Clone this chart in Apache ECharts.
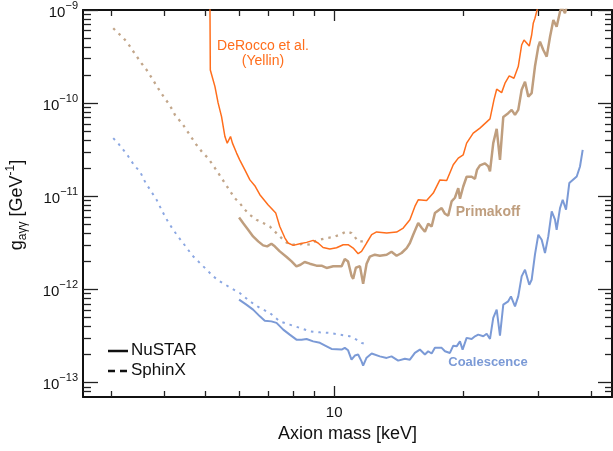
<!DOCTYPE html>
<html><head><meta charset="utf-8">
<script src="https://cdn.jsdelivr.net/npm/echarts@6/dist/echarts.min.js"></script>
<style>html,body{margin:0;padding:0;background:#fff}#c{width:613px;height:451px}</style>
</head><body><div id="c"></div>
<script>
// ---- axis ticks ----
const xMajorTicks = [10];
const xMinorTicks = [3, 4, 5, 6, 7, 8, 9, 20, 30, 40];
const yMajorTicks = [1e-13, 1e-12, 1e-11, 1e-10, 1e-9];
const yMinorTicks = [8e-14, 9e-14,
  2e-13, 3e-13, 4e-13, 5e-13, 6e-13, 7e-13, 8e-13, 9e-13,
  2e-12, 3e-12, 4e-12, 5e-12, 6e-12, 7e-12, 8e-12, 9e-12,
  2e-11, 3e-11, 4e-11, 5e-11, 6e-11, 7e-11, 8e-11, 9e-11,
  2e-10, 3e-10, 4e-10, 5e-10, 6e-10, 7e-10, 8e-10, 9e-10];

// ---- data: [axion mass keV, g_agg GeV^-1] ----
const derocco = [[5.12,1.13e-9],[5.13,2.27e-10],[5.26,1.505e-10],[5.35,1.006e-10],[5.45,7.17e-11],[5.55,4.38e-11],[5.62,3.72e-11],[5.72,4.38e-11],[5.78,3.72e-11],[5.91,2.91e-11],[6.01,2.46e-11],[6.18,1.92e-11],[6.35,1.50e-11],[6.52,1.30e-11],[6.70,1.04e-11],[7.00,8.11e-12],[7.30,6.60e-12],[7.46,4.74e-12],[7.67,3.56e-12],[7.80,3.15e-12],[8.02,2.97e-12],[8.31,3.09e-12],[8.62,3.20e-12],[8.93,3.36e-12],[9.17,3.15e-12],[9.42,2.82e-12],[9.77,2.72e-12],[10.13,2.80e-12],[10.50,3.02e-12],[10.78,3.02e-12],[11.08,2.78e-12],[11.38,2.42e-12],[11.59,2.56e-12],[11.91,3.15e-12],[12.24,3.87e-12],[12.57,4.14e-12],[13.27,4.03e-12],[14.00,4.13e-12],[14.51,4.56e-12],[15.04,5.60e-12],[15.45,7.78e-12],[15.73,9.17e-12],[16.46,9.02e-12],[17.06,1.082e-11],[17.68,1.50e-11],[18.34,1.477e-11],[19.00,2.18e-11],[19.52,2.57e-11],[20.05,2.79e-11],[20.42,3.72e-11],[21.16,4.76e-11],[21.94,5.39e-11],[23.16,6.78e-11],[23.66,1.084e-10],[24.01,1.411e-10],[24.66,1.297e-10],[25.11,1.636e-10],[25.69,1.96e-10],[26.35,1.852e-10],[26.97,2.47e-10],[27.47,4.21e-10],[27.82,4.77e-10],[28.62,4.11e-10],[28.99,5.39e-10],[29.24,7.20e-10],[29.51,8.15e-10],[30.05,1.13e-9]];

const primakoffNuSTAR = [[5.99,5.92e-12],[6.12,5.16e-12],[6.29,4.37e-12],[6.46,3.71e-12],[6.64,3.28e-12],[6.82,2.97e-12],[6.97,2.90e-12],[7.13,3.09e-12],[7.26,2.90e-12],[7.46,2.56e-12],[7.74,2.23e-12],[7.95,2.00e-12],[8.16,1.77e-12],[8.34,1.84e-12],[8.53,1.97e-12],[8.77,1.89e-12],[9.09,1.80e-12],[9.34,1.80e-12],[9.60,1.70e-12],[9.95,1.77e-12],[10.41,1.77e-12],[10.59,2.12e-12],[10.78,1.99e-12],[10.98,1.40e-12],[11.08,1.30e-12],[11.24,1.71e-12],[11.49,1.78e-12],[11.69,1.15e-12],[11.91,1.89e-12],[12.12,2.25e-12],[12.45,2.36e-12],[12.79,2.30e-12],[13.27,2.36e-12],[13.62,2.54e-12],[14.00,2.30e-12],[14.38,2.46e-12],[14.78,2.78e-12],[15.04,3.15e-12],[15.31,3.87e-12],[15.73,5.16e-12],[16.02,4.59e-12],[16.31,4.16e-12],[16.60,5.07e-12],[16.91,4.74e-12],[17.21,6.60e-12],[17.85,7.47e-12],[18.17,6.49e-12],[18.49,6.18e-12],[18.83,8.80e-12],[19.17,9.64e-12],[19.52,1.224e-11],[19.70,9.40e-12],[20.05,1.274e-11],[20.42,1.62e-11],[20.98,1.62e-11],[21.36,1.54e-11],[21.59,1.92e-11],[21.94,2.15e-11],[22.54,2.26e-11],[22.95,2.09e-11],[23.16,1.85e-11],[23.57,3.72e-11],[24.01,5.30e-11],[24.44,2.46e-11],[24.88,7.12e-11],[25.55,7.80e-11],[26.03,8.46e-11],[26.50,7.48e-11],[26.97,8.46e-11],[27.47,1.39e-10],[27.97,1.70e-10],[28.47,1.175e-10],[28.99,1.28e-10],[29.51,2.47e-10],[30.05,4.04e-10],[30.32,4.57e-10],[30.87,3.72e-10],[31.44,3.16e-10],[32.01,5.17e-10],[32.59,7.81e-10],[33.17,6.62e-10],[33.78,9.59e-10],[34.08,1.085e-9],[34.69,9.22e-10],[35.01,1.085e-9],[35.32,1.19e-9]];

const coalescenceNuSTAR = [[5.99,7.77e-13],[6.23,6.86e-13],[6.46,6.07e-13],[6.70,5.14e-13],[6.88,4.62e-13],[7.13,4.54e-13],[7.33,4.37e-13],[7.60,3.70e-13],[7.87,3.27e-13],[8.16,2.89e-13],[8.39,2.89e-13],[8.62,2.94e-13],[8.93,2.77e-13],[9.26,2.67e-13],[9.60,2.45e-13],[9.86,2.30e-13],[10.41,2.26e-13],[10.59,2.36e-13],[10.78,2.22e-13],[10.98,1.76e-13],[11.18,1.95e-13],[11.38,2.00e-13],[11.59,1.69e-13],[11.69,1.52e-13],[11.91,1.85e-13],[12.24,2.05e-13],[12.79,1.91e-13],[13.27,1.84e-13],[13.62,1.91e-13],[14.12,1.72e-13],[14.64,1.80e-13],[15.04,1.76e-13],[15.45,2.08e-13],[15.87,2.26e-13],[16.31,2.00e-13],[16.60,2.17e-13],[16.91,2.05e-13],[17.21,2.36e-13],[17.85,2.36e-13],[18.17,2.17e-13],[18.66,2.08e-13],[19.00,2.49e-13],[19.35,2.45e-13],[19.70,2.77e-13],[19.98,2.26e-13],[20.42,3.02e-13],[20.98,2.94e-13],[21.36,3.14e-13],[21.74,3.27e-13],[22.34,3.14e-13],[22.75,3.35e-13],[23.16,2.94e-13],[23.57,4.94e-13],[24.01,6.07e-13],[24.44,3.19e-13],[24.88,6.86e-13],[25.55,7.45e-13],[25.93,8.42e-13],[26.50,6.58e-13],[26.97,8.42e-13],[27.47,1.38e-12],[27.97,1.63e-12],[28.62,1.124e-12],[28.99,1.27e-12],[29.51,2.36e-12],[30.05,3.87e-12],[30.60,3.42e-12],[31.15,2.46e-12],[31.71,3.71e-12],[32.30,6.87e-12],[32.88,5.60e-12],[33.17,4.37e-12],[33.78,7.47e-12],[34.27,9.17e-12],[34.89,7.17e-12],[35.51,1.386e-11],[36.96,1.63e-11],[37.62,2.09e-11],[38.17,3.15e-11]];

const primakoffSphinX = [[3.04,6.37e-10],[3.12,5.67e-10],[3.21,5.01e-10],[3.29,4.39e-10],[3.41,3.43e-10],[3.54,2.68e-10],[3.64,2.27e-10],[3.74,1.87e-10],[3.87,1.45e-10],[4.01,1.13e-10],[4.12,9.58e-11],[4.24,7.48e-11],[4.43,5.85e-11],[4.59,4.57e-11],[4.76,3.57e-11],[4.93,2.91e-11],[5.07,2.57e-11],[5.26,2.01e-11],[5.45,1.57e-11],[5.65,1.22e-11],[5.85,9.57e-12],[6.01,8.46e-12],[6.18,7.17e-12],[6.35,6.33e-12],[6.58,5.60e-12],[6.82,5.16e-12],[7.07,4.74e-12],[7.26,4.19e-12],[7.46,3.71e-12],[7.67,3.28e-12],[7.87,3.02e-12],[8.16,3.02e-12],[8.46,3.09e-12],[8.77,3.02e-12],[9.01,3.28e-12],[9.26,3.42e-12],[9.60,3.56e-12],[9.95,3.65e-12],[10.31,3.87e-12],[10.69,4.19e-12],[10.98,4.03e-12],[11.18,3.65e-12],[11.38,3.28e-12],[11.69,3.28e-12],[11.91,3.48e-12]];

const coalescenceSphinX = [[3.04,4.21e-11],[3.12,3.72e-11],[3.21,3.15e-11],[3.29,2.72e-11],[3.41,2.12e-11],[3.51,1.85e-11],[3.62,1.39e-11],[3.70,1.195e-11],[3.84,9.17e-12],[3.98,6.60e-12],[4.08,5.37e-12],[4.20,4.37e-12],[4.31,3.71e-12],[4.43,3.15e-12],[4.55,2.67e-12],[4.68,2.26e-12],[4.85,1.92e-12],[5.03,1.63e-12],[5.21,1.38e-12],[5.40,1.22e-12],[5.65,1.078e-12],[6.01,9.16e-13],[6.35,7.45e-13],[6.70,6.33e-13],[7.07,5.59e-13],[7.46,4.54e-13],[7.87,4.19e-13],[8.31,3.86e-13],[8.77,3.55e-13],[9.26,3.46e-13],[9.77,3.41e-13],[10.31,3.27e-13],[10.88,3.14e-13],[11.28,2.89e-13],[11.59,2.67e-13],[11.80,2.60e-13]];

const X_MIN = 2.583, X_MAX = 44.7, Y_MIN = 7e-14, Y_MAX = 1e-9;
const FONT = '"Liberation Sans", Arial, Helvetica, sans-serif';
const AX = '#111';

function xAxisDef(pos, ticks, len, withLine) {
  return {
    type: 'log', logBase: 10, min: X_MIN, max: X_MAX, position: pos, gridIndex: 0,
    axisLine: { show: withLine, onZero: false, lineStyle: { color: AX, width: 2 } },
    axisTick: { show: true, inside: true, length: len, customValues: ticks, lineStyle: { color: '#222', width: 1.3 } },
    axisLabel: { show: false }, splitLine: { show: false }, minorTick: { show: false }, minorSplitLine: { show: false }
  };
}
function yAxisDef(pos, ticks, len, withLine) {
  return {
    type: 'log', logBase: 10, min: Y_MIN, max: Y_MAX, position: pos, gridIndex: 0,
    axisLine: { show: withLine, onZero: false, lineStyle: { color: AX, width: 2 } },
    axisTick: { show: true, inside: true, length: len, customValues: ticks, lineStyle: { color: '#222', width: 1.3 } },
    axisLabel: { show: false }, splitLine: { show: false }, minorTick: { show: false }, minorSplitLine: { show: false }
  };
}

const xMain = xAxisDef('bottom', xMajorTicks, 11, true);
xMain.axisLabel = { show: true, customValues: xMajorTicks, margin: 8, color: '#111', fontFamily: FONT, fontSize: 15, formatter: v => String(Math.round(v)) };
xMain.name = 'Axion mass [keV]';
xMain.nameLocation = 'middle';
xMain.nameGap = 27;
xMain.nameTextStyle = { color: '#111', fontFamily: FONT, fontSize: 18 };

const yMain = yAxisDef('left', yMajorTicks, 15, true);
yMain.axisLabel = {
  show: true, customValues: yMajorTicks, margin: 5, color: '#111', fontFamily: FONT,
  formatter: v => '{b|10}{s|\u2212' + Math.round(-Math.log10(v)) + '}',
  rich: {
    b: { fontFamily: FONT, fontSize: 15, color: '#111', lineHeight: 20, verticalAlign: 'bottom' },
    s: { fontFamily: FONT, fontSize: 11, color: '#111', lineHeight: 20, verticalAlign: 'top', padding: [0, 0, 6, 0] }
  }
};

const option = {
  animation: false,
  backgroundColor: '#fff',
  grid: { left: 83, right: 1, top: 10, bottom: 54, containLabel: false, outerBoundsMode: 'none' },
  xAxis: [xMain, xAxisDef('bottom', xMinorTicks, 6, false), xAxisDef('top', xMajorTicks, 11, true), xAxisDef('top', xMinorTicks, 6, false)],
  yAxis: [yMain, yAxisDef('left', yMinorTicks, 8, false), yAxisDef('right', yMajorTicks, 14, true), yAxisDef('right', yMinorTicks, 7, false)],
  series: [
    { name: 'Coalescence SphinX', type: 'line', data: coalescenceSphinX, showSymbol: false, clip: true,
      lineStyle: { color: '#8ba7e2', width: 2, type: [2.5, 5] } },
    { name: 'Primakoff SphinX', type: 'line', data: primakoffSphinX, showSymbol: false, clip: true,
      lineStyle: { color: '#c2a68a', width: 2.3, type: [2.5, 5] } },
    { name: 'Coalescence NuSTAR', type: 'line', data: coalescenceNuSTAR, showSymbol: false, clip: true,
      lineStyle: { color: '#7b9ad6', width: 2 } },
    { name: 'Primakoff NuSTAR', type: 'line', data: primakoffNuSTAR, showSymbol: false, clip: true,
      lineStyle: { color: '#bf9e7e', width: 2.5 } },
    { name: 'DeRocco et al. (Yellin)', type: 'line', data: derocco, showSymbol: false, clip: true,
      lineStyle: { color: '#ff6e1c', width: 1.5 } }
  ],
  graphic: [
    { type: 'text', x: 17, y: 205, rotation: Math.PI / 2,
      style: { text: '{g|g}{sub|a\u03b3\u03b3}{g| [GeV}{sup|-1}{g|]}', align: 'center', verticalAlign: 'middle',
        textAlign: 'center', textVerticalAlign: 'middle',
        rich: {
          g: { fontFamily: FONT, fontSize: 18, fill: '#111', color: '#111', lineHeight: 24, verticalAlign: 'middle' },
          sub: { fontFamily: FONT, fontSize: 12, fill: '#111', color: '#111', lineHeight: 24, verticalAlign: 'bottom' },
          sup: { fontFamily: FONT, fontSize: 12, fill: '#111', color: '#111', lineHeight: 24, verticalAlign: 'top' }
        } } },
    { type: 'text', x: 263, y: 46, style: { text: 'DeRocco et al.', fill: '#ff6e1c', font: '14px ' + FONT, align: 'center', verticalAlign: 'middle', textAlign: 'center', textVerticalAlign: 'middle' } },
    { type: 'text', x: 263, y: 61, style: { text: '(Yellin)', fill: '#ff6e1c', font: '14px ' + FONT, align: 'center', verticalAlign: 'middle', textAlign: 'center', textVerticalAlign: 'middle' } },
    { type: 'text', x: 488, y: 212, style: { text: 'Primakoff', fill: '#bf9e7e', font: 'bold 14px ' + FONT, align: 'center', verticalAlign: 'middle', textAlign: 'center', textVerticalAlign: 'middle' } },
    { type: 'text', x: 488, y: 362, style: { text: 'Coalescence', fill: '#7b9ad6', font: 'bold 13px ' + FONT, align: 'center', verticalAlign: 'middle', textAlign: 'center', textVerticalAlign: 'middle' } },
    { type: 'line', shape: { x1: 108, y1: 351, x2: 128, y2: 351 }, style: { stroke: '#111', lineWidth: 2.5 } },
    { type: 'line', shape: { x1: 108, y1: 371, x2: 128, y2: 371 }, style: { stroke: '#111', lineWidth: 2.5, lineDash: [7, 5] } },
    { type: 'text', x: 131, y: 350, style: { text: 'NuSTAR', fill: '#111', font: '17px ' + FONT, align: 'left', verticalAlign: 'middle', textAlign: 'left', textVerticalAlign: 'middle' } },
    { type: 'text', x: 131, y: 370, style: { text: 'SphinX', fill: '#111', font: '17px ' + FONT, align: 'left', verticalAlign: 'middle', textAlign: 'left', textVerticalAlign: 'middle' } }
  ]
};
const chart = echarts.init(document.getElementById('c'), null, { renderer: 'canvas' });
chart.setOption(option);
</script>
</body></html>
